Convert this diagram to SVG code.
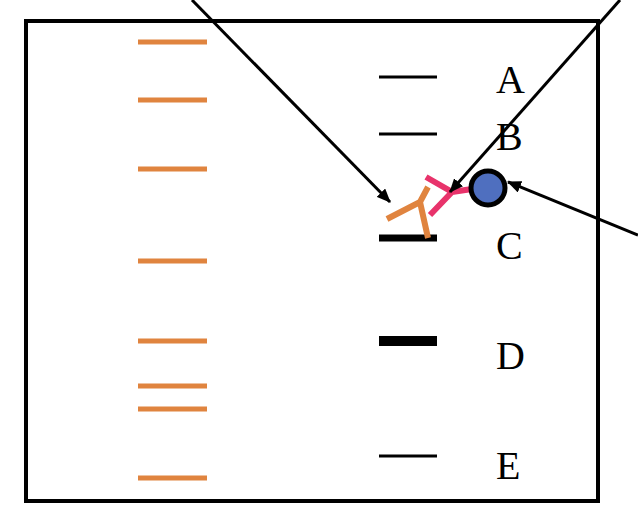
<svg xmlns="http://www.w3.org/2000/svg" width="638" height="526" viewBox="0 0 638 526">
<defs><marker id="ah" markerWidth="14" markerHeight="12" refX="13" refY="6" orient="auto" markerUnits="userSpaceOnUse" viewBox="0 0 14 12"><path d="M0,0 L14,6 L0,12 z" fill="#000"/></marker></defs>
<style>.o{stroke:#e0843f;stroke-width:5}.b{stroke:#000;stroke-width:3}.t{font-family:"Liberation Serif",serif;font-size:40px}.a{stroke:#000;stroke-width:3;fill:none;marker-end:url(#ah)}</style>
<rect x="26" y="21" width="572" height="480" fill="#fff" stroke="#000" stroke-width="4"/>
<g id="ladder"><g class="o"><line x1="138" y1="42" x2="207" y2="42"/><line x1="138" y1="100" x2="207" y2="100"/><line x1="138" y1="169" x2="207" y2="169"/><line x1="138" y1="261" x2="207" y2="261"/><line x1="138" y1="341" x2="207" y2="341"/><line x1="138" y1="386" x2="207" y2="386"/><line x1="138" y1="409" x2="207" y2="409"/><line x1="138" y1="478" x2="207" y2="478"/></g></g>
<g id="bands"><line class="b" x1="379" y1="77" x2="437" y2="77"/><line class="b" x1="379" y1="134" x2="437" y2="134"/><line x1="379" y1="238" x2="437" y2="238" stroke="#000" stroke-width="7"/><line x1="379" y1="341" x2="437" y2="341" stroke="#000" stroke-width="10"/><line class="b" x1="379" y1="456" x2="437" y2="456"/></g>
<g id="labels" class="t"><text x="496" y="93">A</text><text x="496" y="150">B</text><text x="496" y="259">C</text><text x="496" y="369">D</text><text x="496" y="479">E</text></g>
<g id="antibody1" fill="none" stroke="#e0843f" stroke-width="6"><path d="M428,238 L420,202 L387,219 M420,202 L428,187"/></g>
<g id="antibody2" fill="none" stroke="#e8336b" stroke-width="6"><path d="M426,177 L452,192 L430,215 M452,192 L472,189"/></g>
<g id="bead"><circle cx="488" cy="188" r="17" fill="#4f6fbf" stroke="#000" stroke-width="5"/></g>
<g id="connectors"><line class="a" x1="192" y1="0" x2="390" y2="202"/><line class="a" x1="620" y1="0" x2="450" y2="192"/><line class="a" x1="638" y1="235" x2="508" y2="182"/></g>
</svg>
